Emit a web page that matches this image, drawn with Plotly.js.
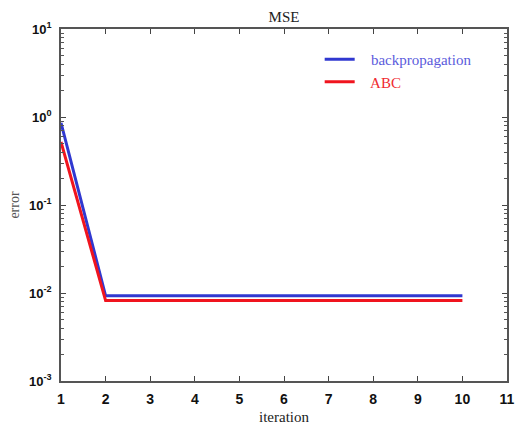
<!DOCTYPE html>
<html>
<head>
<meta charset="utf-8">
<script src="https://cdn.plot.ly/plotly-3.0.1.min.js"></script>
<style>html,body{margin:0;padding:0;background:#fff;}#chart{width:515px;height:425px;}</style>
</head>
<body>
<div id="chart"></div>
<script>
const iterations = [1, 2, 3, 4, 5, 6, 7, 8, 9, 10];
const backpropError = [0.86, 0.0093, 0.0093, 0.0093, 0.0093, 0.0093, 0.0093, 0.0093, 0.0093, 0.0093];
const abcError = [0.52, 0.0082, 0.0082, 0.0082, 0.0082, 0.0082, 0.0082, 0.0082, 0.0082, 0.0082];
const xTicks = [1, 2, 3, 4, 5, 6, 7, 8, 9, 10, 11];
const yTickVals = [0.001, 0.01, 0.1, 1, 10];
const yTickText = ['10<sup>-3</sup>', '10<sup>-2</sup>', '10<sup>-1</sup>', '10<sup>0</sup>', '10<sup>1</sup>'];
const yMinorVals = [0.002,0.003,0.004,0.005,0.006,0.007,0.008,0.009,0.02,0.03,0.04,0.05,0.06,0.07,0.08,0.09,0.2,0.3,0.4,0.5,0.6,0.7,0.8,0.9,2,3,4,5,6,7,8,9];

const traces = [
  {x: iterations, y: backpropError, mode: 'lines', name: '   <span style="color:#5b5bdc">backpropagation</span>',
   line: {color: '#3038d0', width: 3}},
  {x: iterations, y: abcError, mode: 'lines', name: '   <span style="color:#f02a30">ABC</span>',
   line: {color: '#f0141e', width: 3}}
];

const axisCommon = {
  showline: true, linecolor: '#555', linewidth: 1.5, mirror: 'ticks',
  ticks: 'inside', ticklen: 5, tickcolor: '#444', tickwidth: 1.2,
  showgrid: false, zeroline: false
};

const layout = {
  width: 515, height: 425,
  margin: {l: 61, r: 8, t: 29, b: 44},
  paper_bgcolor: '#fff', plot_bgcolor: '#fff',
  title: {text: 'MSE', font: {family: 'Liberation Serif, Times New Roman, serif', size: 15, color: '#222'},
          xref: 'paper', x: 0.5, xanchor: 'center', yref: 'container', y: 0.96, yanchor: 'middle'},
  xaxis: Object.assign({}, axisCommon, {
    range: [1, 11], tickmode: 'array', tickvals: xTicks, ticktext: xTicks.map(String),
    ticklabelstandoff: 4,
    tickfont: {family: 'Liberation Sans, Arial, sans-serif', size: 14, color: '#111', weight: 'bold'},
    title: {text: 'iteration', standoff: 6, font: {family: 'Liberation Serif, Times New Roman, serif', size: 15, color: '#222'}}
  }),
  yaxis: Object.assign({}, axisCommon, {
    type: 'log', range: [-3, 1], tickmode: 'array', tickvals: yTickVals, ticktext: yTickText,
    ticklabelstandoff: 5,
    tickfont: {family: 'Liberation Sans, Arial, sans-serif', size: 13, color: '#111', weight: 'bold'},
    minor: {ticks: 'inside', ticklen: 3, tickcolor: '#555', tickwidth: 1, tickmode: 'array', tickvals: yMinorVals, showgrid: false},
    title: {text: 'error', standoff: 6, font: {family: 'Liberation Serif, Times New Roman, serif', size: 14, color: '#555'}}
  }),
  showlegend: true,
  legend: {x: 0.58, y: 0.96, xanchor: 'left', yanchor: 'top', bgcolor: 'rgba(0,0,0,0)',
           font: {family: 'Liberation Serif, Times New Roman, serif', size: 15}, tracegroupgap: 0}
};

Plotly.newPlot('chart', traces, layout, {displayModeBar: false});
</script>
</body>
</html>
